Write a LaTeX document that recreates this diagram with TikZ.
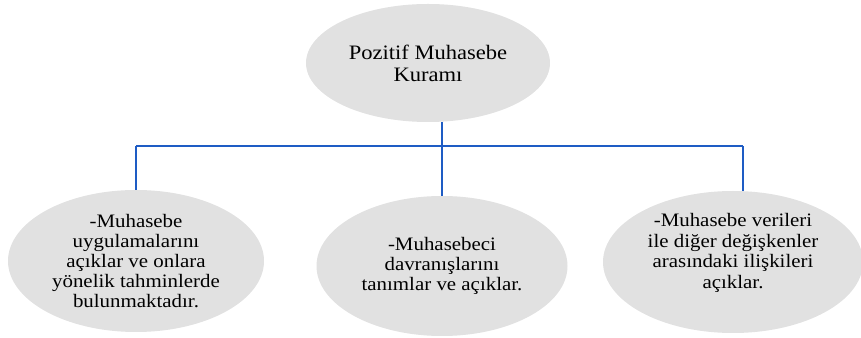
\documentclass[tikz,border=0pt]{standalone}
\usepackage{fontspec}
\setmainfont{Liberation Serif}[FakeStretch=1.1]
\usepackage{tikz}
\usetikzlibrary{shapes.geometric}

\definecolor{linkblue}{RGB}{30,92,196}
\definecolor{bubble}{RGB}{225,225,225}

\begin{document}
\begin{tikzpicture}[
  x=1pt, y=1pt,
  every node/.style={inner sep=0pt,align=center},
  rootbox/.style={ellipse,fill=bubble,minimum width=244pt,minimum height=118pt,font=\fontsize{20.5}{22}\selectfont},
  leafbox/.style={ellipse,fill=bubble,minimum width=256pt,minimum height=142pt,font=\fontsize{19}{19.8}\selectfont},
  link/.style={draw=linkblue,line width=2.3pt}
]
\useasboundingbox (0,0) rectangle (861,337);
\node[rootbox] (root) at (428,274) {Pozitif Muhasebe\\Kuram\i};
\node[leafbox] (left) at (136,76) {-Muhasebe\\uygulamalar\i n\i\\a\c{c}\i klar ve onlara\\y\"onelik tahminlerde\\bulunmaktad\i r.};
\node[leafbox,minimum width=251pt,minimum height=140pt] (mid) at (442,71) {-Muhasebeci\\davran\i\c{s}lar\i n\i\\tan\i mlar ve a\c{c}\i klar.};
\node[leafbox,minimum width=260pt] (right) at (733,75) {};
\node[font=\fontsize{19}{20.5}\selectfont] (righttext) at ([yshift=9pt]right.center) {-Muhasebe verileri\\ile di\u{g}er de\u{g}i\c{s}kenler\\aras\i ndaki ili\c{s}kileri\\a\c{c}\i klar.};
\coordinate (joint) at (442,191);
\coordinate (rjoint) at (743,191);
% tree connectors
\draw[link] (root.south -| joint) -- (joint);
\draw[link] (joint -| left.north) -- (rjoint);
\draw[link] (joint -| left.north) -- (left.north);
\draw[link] (joint) -- (mid.north);
\draw[link] (rjoint) -- (rjoint |- right.north);
\end{tikzpicture}
\end{document}
